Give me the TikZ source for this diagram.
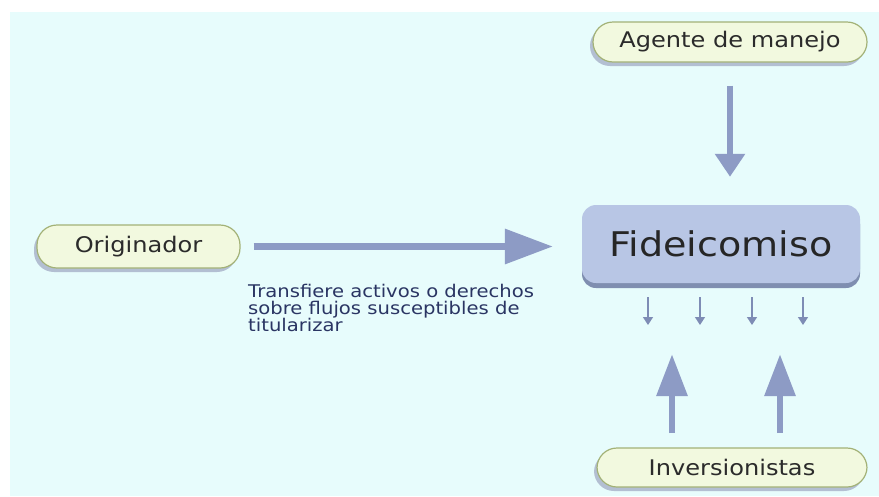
\documentclass[tikz,border=0pt]{standalone}
\usepackage{fontspec}
\setmainfont{DejaVu Sans}
\newfontfamily\widefont[FakeStretch=1.12]{DejaVu Sans}
\usetikzlibrary{arrows.meta,shadows}
\definecolor{bgc}{HTML}{E7FCFC}
\definecolor{pillfill}{HTML}{F2F9DF}
\definecolor{pilldraw}{HTML}{A3B277}
\definecolor{pillshadow}{HTML}{A7B0C8}
\definecolor{arrowc}{HTML}{8D9BC5}
\definecolor{smallarc}{HTML}{7E8CB5}
\definecolor{boxfill}{HTML}{B8C6E5}
\definecolor{boxshadow}{HTML}{7F8EB0}
\definecolor{textc}{HTML}{2B2B2B}
\definecolor{capc}{HTML}{2A3563}
\tikzset{
  pill/.style={draw=pilldraw, line width=1.2pt, fill=pillfill, rounded corners=20pt,
    inner sep=0pt, text=textc, font=\widefont\fontsize{21.5}{25}\selectfont,
    drop shadow={shadow xshift=-3pt, shadow yshift=-4pt, fill=pillshadow, opacity=0.8}},
  fidbox/.style={fill=boxfill, rounded corners=14pt, inner sep=0pt, text=black!85,
    font=\widefont\fontsize{34}{40}\selectfont,
    drop shadow={shadow xshift=0pt, shadow yshift=-5pt, fill=boxshadow, opacity=1}},
  bigar/.style={draw=arrowc, line width=6.5pt},
  smallar/.style={draw=smallarc, line width=1.4pt, -{Triangle[length=8pt,width=10pt]}},
}
\begin{document}
\begin{tikzpicture}[x=1pt,y=-1pt]
\useasboundingbox (0,0) rectangle (879,496);
\fill[bgc] (10,12) rectangle (879,496);

\node[pill, minimum width=274pt, minimum height=40pt] (agente) at (730,42) {Agente de manejo};
\node[pill, minimum width=203pt, minimum height=43pt] (orig) at (138.5,246.5) {Originador};
\node[pill, minimum width=270pt, minimum height=39pt] (inv) at (732,467.5) {Inversionistas};
\node[fidbox, minimum width=278pt, minimum height=78pt] (fid) at (721,244) {Fideicomiso};

% Originador -> Fideicomiso
\draw[bigar, -{Triangle[length=48pt,width=34pt]}, shorten <=13pt, shorten >=29pt]
  (orig.east) -- (orig.east -| fid.west);
% Agente -> Fideicomiso
\draw[bigar, -{Triangle[length=23pt,width=29pt]}, shorten <=23pt, shorten >=28pt]
  (agente.south) -- (agente.south |- fid.north);
% Inversionistas -> Fideicomiso
\coordinate (u1) at (672,448);
\coordinate (u2) at (780,448);
\draw[bigar, -{Triangle[length=42pt,width=30pt]}, shorten <=15pt, shorten >=71pt]
  (u1) -- (u1 |- fid.south);
\draw[bigar, -{Triangle[length=42pt,width=30pt]}, shorten <=15pt, shorten >=71pt]
  (u2) -- (u2 |- fid.south);

% small arrows under the box
\foreach \xx/\nm in {648/s1,700/s2,752/s3,803/s4}{
  \coordinate (\nm) at (\xx,297);
  \draw[smallar] (\nm) -- ++(0,28);
}

\node[anchor=north west, align=left, inner sep=0pt, text=capc,
  font=\widefont\fontsize{17.5}{16.5}\selectfont] (cap) at (248,284)
  {Transfiere activos o derechos\\sobre flujos susceptibles de\\titularizar};
\end{tikzpicture}
\end{document}
